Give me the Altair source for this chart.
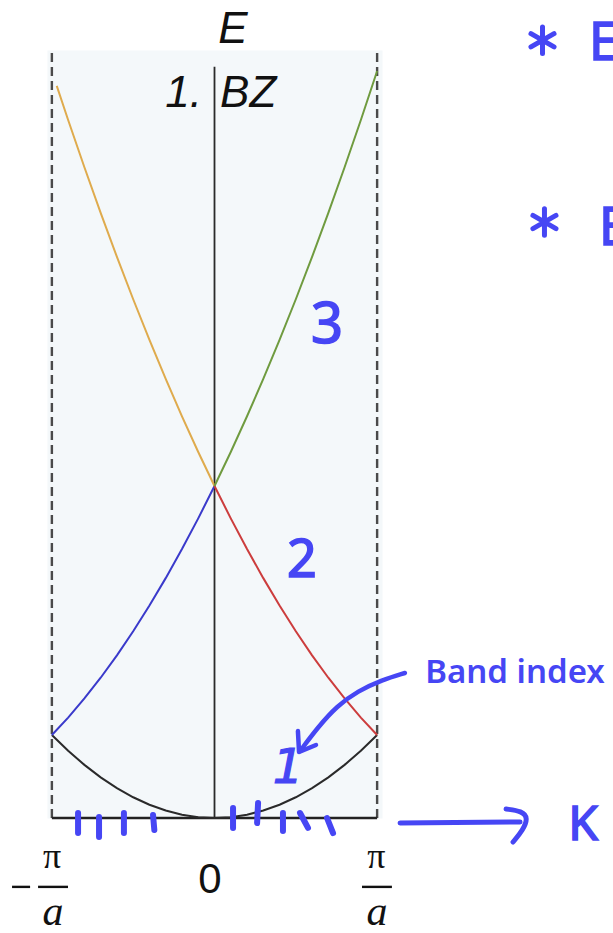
import altair as alt
import pandas as pd

# ---- band structure of the empty lattice, reduced zone (k in units of pi/a) ----
k_full = [-1.0, -0.9, -0.8, -0.7, -0.6, -0.5, -0.4, -0.3, -0.2, -0.1, 0.0,
          0.1, 0.2, 0.3, 0.4, 0.5, 0.6, 0.7, 0.8, 0.9, 1.0]
e_band1 = [1.00, 0.81, 0.64, 0.49, 0.36, 0.25, 0.16, 0.09, 0.04, 0.01, 0.00,
           0.01, 0.04, 0.09, 0.16, 0.25, 0.36, 0.49, 0.64, 0.81, 1.00]

k_left = [-1.0, -0.9, -0.8, -0.7, -0.6, -0.5, -0.4, -0.3, -0.2, -0.1, 0.0]
k_right = [0.0, 0.1, 0.2, 0.3, 0.4, 0.5, 0.6, 0.7, 0.8, 0.9, 1.0]
k_left3 = [-0.97, -0.9, -0.8, -0.7, -0.6, -0.5, -0.4, -0.3, -0.2, -0.1, 0.0]

e_band2_left = [1.00, 1.21, 1.44, 1.69, 1.96, 2.25, 2.56, 2.89, 3.24, 3.61, 4.00]
e_band2_right = [4.00, 3.61, 3.24, 2.89, 2.56, 2.25, 1.96, 1.69, 1.44, 1.21, 1.00]
e_band3_left = [8.82, 8.41, 7.84, 7.29, 6.76, 6.25, 5.76, 5.29, 4.84, 4.41, 4.00]
e_band3_right = [4.00, 4.41, 4.84, 5.29, 5.76, 6.25, 6.76, 7.29, 7.84, 8.41, 9.00]

branch_names = ["band1", "band2_left", "band2_right", "band3_left", "band3_right"]
branch_colors = ["#2a2a2a", "#3a3acb", "#cc3d3d", "#dfab4d", "#6f9b3f"]

# ---- zone frame ----
zone_edges = [-1.0, 1.0]
zone_top = 9.22
center_top = 9.05

# ---- printed labels ----
header_text = ["E", "1.", "BZ"]
header_k = [0.114, -0.077, 0.034]
header_e = [9.34, 8.57, 8.57]

pi_k = [-0.999, 0.995]
pi_e = [-0.60, -0.60]
a_k = [-0.993, 1.0]
a_e = [-1.29, -1.29]
bar_k = [-1.085, 0.907, -1.245]
bar_k2 = [-0.901, 1.091, -1.134]
bar_e = [-0.83, -0.83, -0.83]

# ---- handwritten notes ----
band_digit = ["3", "2"]
band_digit_k = [0.692, 0.538]
band_digit_e = [5.72, 2.90]

note_text = ["Band index"]
note_k = [1.848]
note_e = [1.63]

star_k = [2.017, 2.029]
star_e = [9.37, 7.18]
star_letter_k = [2.303, 2.365]
star_letter_e = [9.13, 6.90]

pointer_k = [1.171, 1.030, 0.882, 0.753, 0.637, 0.526]
pointer_e = [1.747, 1.663, 1.530, 1.349, 1.096, 0.807]
pointer_head_k = [0.513, 0.520, 0.624]
pointer_head_e = [1.048, 0.795, 0.880]

k_arrow_k = [1.141, 1.879]
k_arrow_e = [-0.060, -0.048]
k_head_k = [1.793, 1.891, 1.928, 1.897, 1.836]
k_head_e = [0.108, 0.084, 0.000, -0.145, -0.289]

tick_k = [-0.839, -0.710, -0.557, -0.378, 0.114, 0.268, 0.421, 0.526, 0.692]
tick_k2 = [-0.839, -0.710, -0.557, -0.370, 0.114, 0.262, 0.421, 0.575, 0.729]
tick_e = [0.060, 0.012, 0.060, 0.036, 0.120, 0.181, 0.060, 0.060, 0.000]
tick_e2 = [-0.181, -0.229, -0.181, -0.145, -0.120, -0.060, -0.157, -0.120, -0.181]

INK = "#4646f4"
HAND_FONT = "Noto Sans"

xs = alt.Scale(domain=[-1.03, 1.03], nice=False, zero=False)
ys = alt.Scale(domain=[0, 9.253], nice=False, zero=False)


def X(field="k"):
    return alt.X(f"{field}:Q", scale=xs, axis=None)


def Y(field="E"):
    return alt.Y(f"{field}:Q", scale=ys, axis=None)


# curves table
rows = []
for name, ks, es in [
    ("band1", k_full, e_band1),
    ("band2_left", k_left, e_band2_left),
    ("band2_right", k_right, e_band2_right),
    ("band3_left", k_left3, e_band3_left),
    ("band3_right", k_right, e_band3_right),
]:
    for i, (k, e) in enumerate(zip(ks, es)):
        rows.append({"k": k, "E": e, "branch": name, "i": i})
curves_df = pd.DataFrame(rows)

curves = alt.Chart(curves_df).mark_line(strokeWidth=2).encode(
    x=X(), y=Y(),
    color=alt.Color("branch:N", scale=alt.Scale(domain=branch_names, range=branch_colors), legend=None),
    order=alt.Order("i:Q"),
)

edges_df = pd.DataFrame({"k": zone_edges, "E": [0, 0], "E2": [zone_top, zone_top]})
edges = alt.Chart(edges_df).mark_rule(color="#4a4a4a", strokeWidth=2.4, strokeDash=[9, 5]).encode(
    x=X(), y=Y(), y2=alt.Y2("E2:Q")
)

center_df = pd.DataFrame({"k": [0.0], "E": [0.0], "E2": [center_top]})
center = alt.Chart(center_df).mark_rule(color="#2a2a2a", strokeWidth=1.8).encode(
    x=X(), y=Y(), y2=alt.Y2("E2:Q")
)

base_df = pd.DataFrame({"k": [zone_edges[0]], "k2": [zone_edges[1]], "E": [0.0]})
baseline = alt.Chart(base_df).mark_rule(color="#222222", strokeWidth=2.4).encode(
    x=X(), x2=alt.X2("k2:Q"), y=Y()
)

hdr = pd.DataFrame({"t": header_text, "k": header_k, "E": header_e})
hdr_e = alt.Chart(hdr.iloc[[0]]).mark_text(
    font="Liberation Sans", fontSize=44, fontStyle="italic", align="center", baseline="alphabetic", color="#111111"
).encode(x=X(), y=Y(), text="t:N")
hdr_1 = alt.Chart(hdr.iloc[[1]]).mark_text(
    font="Liberation Sans", fontSize=44, fontStyle="italic", align="right", baseline="alphabetic", color="#111111"
).encode(x=X(), y=Y(), text="t:N")
hdr_bz = alt.Chart(hdr.iloc[[2]]).mark_text(
    font="Liberation Sans", fontSize=44, fontStyle="italic", align="left", baseline="alphabetic", color="#111111"
).encode(x=X(), y=Y(), text="t:N")

zero_df = pd.DataFrame({"t": ["0"], "k": [-0.028], "E": [-0.904]})
zero_lbl = alt.Chart(zero_df).mark_text(
    font="Liberation Sans", fontSize=42, align="center", baseline="alphabetic", color="#111111"
).encode(x=X(), y=Y(), text="t:N")

pi_df = pd.DataFrame({"t": ["π", "π"], "k": pi_k, "E": pi_e})
pi_lbl = alt.Chart(pi_df).mark_text(
    font="Liberation Serif", fontSize=36, align="center", baseline="alphabetic", color="#111111"
).encode(x=X(), y=Y(), text="t:N")

a_df = pd.DataFrame({"t": ["a", "a"], "k": a_k, "E": a_e})
a_lbl = alt.Chart(a_df).mark_text(
    font="Liberation Serif", fontSize=42, fontStyle="italic", align="center", baseline="alphabetic", color="#111111"
).encode(x=X(), y=Y(), text="t:N")

bars_df = pd.DataFrame({"k": bar_k, "k2": bar_k2, "E": bar_e})
bars = alt.Chart(bars_df).mark_rule(color="#111111", strokeWidth=2.4).encode(
    x=X(), x2=alt.X2("k2:Q"), y=Y()
)

# handwritten layer
hand = dict(font=HAND_FONT, baseline="alphabetic", color=INK, stroke=INK, strokeWidth=1.6)

digits_df = pd.DataFrame({"t": band_digit, "k": band_digit_k, "E": band_digit_e})
digit3 = alt.Chart(digits_df.iloc[[0]]).mark_text(fontSize=56, align="center", **hand).encode(
    x=X(), y=Y(), text="t:N")
digit2 = alt.Chart(digits_df.iloc[[1]]).mark_text(fontSize=52, align="center", **hand).encode(
    x=X(), y=Y(), text="t:N")

one_df = pd.DataFrame({"t": ["1"], "k": [0.452], "E": [0.42]})
digit1 = alt.Chart(one_df).mark_text(
    font="DejaVu Sans", fontSize=48, fontStyle="italic", align="center", baseline="alphabetic",
    color=INK, stroke=INK, strokeWidth=1.2
).encode(x=X(), y=Y(), text="t:N")

note_df = pd.DataFrame({"t": note_text, "k": note_k, "E": note_e})
note = alt.Chart(note_df).mark_text(
    font=HAND_FONT, fontSize=33, fontWeight=600, align="center", baseline="alphabetic", color=INK
).encode(x=X(), y=Y(), text="t:N")

kk_df = pd.DataFrame({"t": ["K"], "k": [2.266], "E": [-0.265]})
k_lbl = alt.Chart(kk_df).mark_text(fontSize=48, align="center", **hand).encode(
    x=X(), y=Y(), text="t:N")

star_letters_df = pd.DataFrame({"t": ["E", "E"], "k": star_letter_k, "E": star_letter_e})
star_letters = alt.Chart(star_letters_df).mark_text(fontSize=52, align="left", **hand).encode(
    x=X(), y=Y(), text="t:N")

asterisk_path = "M0,-1L0,1M-0.87,-0.5L0.87,0.5M-0.87,0.5L0.87,-0.5"
stars_df = pd.DataFrame({"k": star_k, "E": star_e})
stars = alt.Chart(stars_df).mark_point(
    shape=asterisk_path, size=700, filled=False, color=INK, strokeWidth=5, strokeCap="round", opacity=1
).encode(x=X(), y=Y())

pointer_df = pd.DataFrame({"k": pointer_k, "E": pointer_e, "i": list(range(len(pointer_k)))})
pointer = alt.Chart(pointer_df).mark_line(
    color=INK, strokeWidth=4.5, strokeCap="round", interpolate="basis"
).encode(x=X(), y=Y(), order=alt.Order("i:Q"))

head_df = pd.DataFrame({"k": pointer_head_k, "E": pointer_head_e, "i": [0, 1, 2]})
pointer_head = alt.Chart(head_df).mark_line(
    color=INK, strokeWidth=4.5, strokeCap="round", strokeJoin="round"
).encode(x=X(), y=Y(), order=alt.Order("i:Q"))

karrow_df = pd.DataFrame({"k": k_arrow_k, "E": k_arrow_e, "i": [0, 1]})
karrow = alt.Chart(karrow_df).mark_line(
    color=INK, strokeWidth=5, strokeCap="round"
).encode(x=X(), y=Y(), order=alt.Order("i:Q"))

khead_df = pd.DataFrame({"k": k_head_k, "E": k_head_e, "i": list(range(len(k_head_k)))})
khead = alt.Chart(khead_df).mark_line(
    color=INK, strokeWidth=5, strokeCap="round", strokeJoin="round", interpolate="basis"
).encode(x=X(), y=Y(), order=alt.Order("i:Q"))

ticks_df = pd.DataFrame({"k": tick_k, "k2": tick_k2, "E": tick_e, "E2": tick_e2})
ticks = alt.Chart(ticks_df).mark_rule(color=INK, strokeWidth=6, strokeCap="round").encode(
    x=X(), x2=alt.X2("k2:Q"), y=Y(), y2=alt.Y2("E2:Q")
)

chart = alt.layer(
    edges, center, baseline, curves,
    hdr_e, hdr_1, hdr_bz, zero_lbl, pi_lbl, a_lbl, bars,
    digit3, digit2, digit1, note, k_lbl, star_letters, stars,
    pointer, pointer_head, karrow, khead, ticks,
).properties(
    width=335,
    height=768,
    padding={"left": 47, "top": 50, "right": 231, "bottom": 115},
    autosize="none",
    background="white",
).configure_view(fill="#f4f8fa", stroke="transparent")

chart.save("out.html", embed_options={"renderer": "svg", "actions": False})
